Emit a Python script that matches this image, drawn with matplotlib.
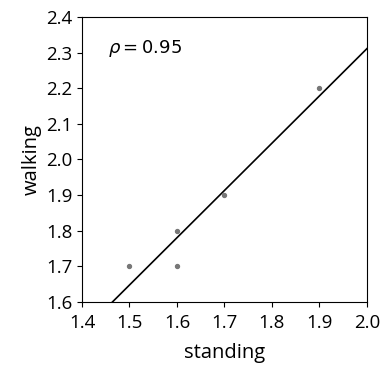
import numpy as np
import matplotlib
matplotlib.use("Agg")
import matplotlib.pyplot as plt

# dados
standing = [1.5, 1.6, 1.6, 1.7, 1.9]
walking = [1.7, 1.8, 1.7, 1.9, 2.2]
rho_txt = r"$\rho = 0.95$"

plt.rcParams["font.family"] = ["Open Sans", "DejaVu Sans"]
plt.rcParams["mathtext.fontset"] = "dejavusans"

fig = plt.figure(figsize=(3.85, 3.67), dpi=100)
ax = fig.add_axes([0.213, 0.177, 0.740, 0.777])

ax.scatter(standing, walking, s=8, color="#777777", zorder=3)

# reta de ajuste
a, b = np.polyfit(standing, walking, 1)
xs = np.array([1.4, 2.0])
ax.plot(xs, a * xs + b, color="black", lw=1.2)

ax.set_xlim(1.4, 2.0)
ax.set_ylim(1.6, 2.4)
ax.set_xticks(np.arange(1.4, 2.01, 0.1))
ax.set_yticks(np.arange(1.6, 2.41, 0.1))
ax.tick_params(labelsize=13.5)
ax.tick_params(axis="x", pad=5)
ax.set_xlabel("standing", fontsize=14.5, labelpad=8)
ax.set_ylabel("walking", fontsize=14.5, labelpad=3)

ax.text(0.09, 0.89, rho_txt, transform=ax.transAxes, fontsize=13,
        va="center")

fig.savefig("out.png", dpi=100)
